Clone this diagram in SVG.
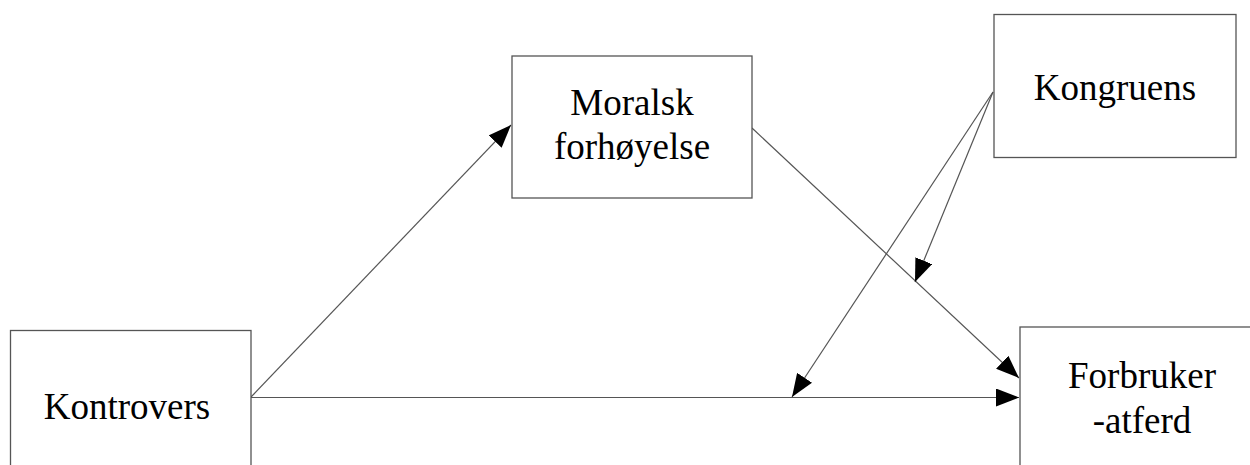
<svg xmlns="http://www.w3.org/2000/svg" width="1250" height="465" viewBox="0 0 1250 465">
<style>
.box{fill:#fff;stroke:#555;stroke-width:1.3}
.lbl{font-family:"Liberation Serif","Times New Roman",serif;font-size:37px;fill:#000;text-anchor:middle}
.cn{fill:none;stroke:#555;stroke-width:1.2;marker-end:url(#ah)}
</style>
<defs>
<marker id="ah" markerUnits="userSpaceOnUse" markerWidth="24" markerHeight="18" viewBox="0 0 24 18" refX="23" refY="9" orient="auto">
<path d="M0,0 L23,9 L0,18 Z" fill="#000"/>
</marker>
</defs>
<rect width="1250" height="465" fill="#fff"/>
<g id="connectors">
<line class="cn" x1="251" y1="397" x2="511" y2="125"/>
<line class="cn" x1="251" y1="397.5" x2="1019" y2="397.5"/>
<line class="cn" x1="752" y1="128" x2="1019" y2="378"/>
<line class="cn" x1="993" y1="92" x2="915" y2="282"/>
<line class="cn" x1="993" y1="92" x2="792" y2="397"/>
</g>
<g id="kontrovers">
<rect class="box" x="10.5" y="330.5" width="240.5" height="150"/>
<text class="lbl" x="127" y="419">Kontrovers</text>
</g>
<g id="moralsk">
<rect class="box" x="512" y="56" width="240" height="142"/>
<text class="lbl" x="632" y="115">Moralsk</text>
<text class="lbl" x="632" y="159">forhøyelse</text>
</g>
<g id="kongruens">
<rect class="box" x="994" y="14.5" width="242" height="143"/>
<text class="lbl" x="1115" y="100">Kongruens</text>
</g>
<g id="forbruker">
<rect class="box" x="1020" y="327" width="250" height="160"/>
<text class="lbl" x="1142" y="388">Forbruker</text>
<text class="lbl" x="1142" y="433">-atferd</text>
</g>
</svg>
